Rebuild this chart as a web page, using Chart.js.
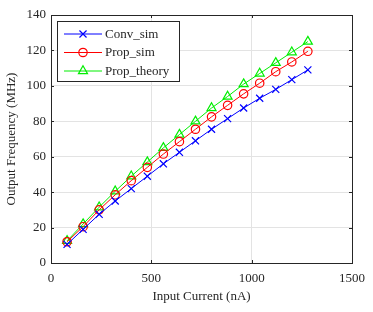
<!DOCTYPE html>
<html>
<head>
<meta charset="utf-8">
<script src="https://cdn.jsdelivr.net/npm/chart.js@4.4.1/dist/chart.umd.min.js"></script>
<style>
  html, body { margin: 0; padding: 0; background: #fff; }
  #wrap { width: 373px; height: 312px; }
</style>
</head>
<body>
<div id="wrap"><canvas id="freqChart" width="373" height="312"></canvas></div>
<script>
const currents = [80, 160, 240, 320, 400, 480, 560, 640, 720, 800, 880, 960, 1040, 1120, 1200, 1280];
const convSim = [10.5, 19, 27.5, 35, 42, 49, 56, 62.5, 69, 75.5, 81.5, 87.5, 93, 98, 103.5, 109];
const propSim = [12, 20.5, 30, 38.5, 46.5, 54, 61.5, 68.5, 75.5, 82.5, 89, 95.5, 101.5, 108, 113.5, 119.5];
const propTheory = [12.5, 22, 31.5, 40.5, 49, 57, 65, 72.5, 80, 87.5, 94, 101, 107, 113, 119, 125];
const seriesNames = ['Conv_sim', 'Prop_sim', 'Prop_theory'];

const serif = '"Liberation Serif", "Times New Roman", serif';
const axisColor = '#262626';

function toPoints(ys) {
    return ys.map((y, i) => ({ x: currents[i], y: y }));
}

// box, inward ticks and the legend, drawn the MATLAB way
const boxPlugin = {
    id: 'boxPlugin',
    afterDraw(chart) {
        const ctx = chart.ctx;
        const a = chart.chartArea;
        const xs = chart.scales.x, ys = chart.scales.y;
        ctx.save();
        ctx.strokeStyle = axisColor;
        ctx.lineWidth = 1;
        ctx.beginPath();
        xs.ticks.forEach(t => {
            const px = Math.round(xs.getPixelForValue(t.value)) + 0.5;
            ctx.moveTo(px, a.bottom); ctx.lineTo(px, a.bottom - 3);
            ctx.moveTo(px, a.top); ctx.lineTo(px, a.top + 3);
        });
        ys.ticks.forEach(t => {
            const py = Math.round(ys.getPixelForValue(t.value)) + 0.5;
            ctx.moveTo(a.left, py); ctx.lineTo(a.left + 3, py);
            ctx.moveTo(a.right, py); ctx.lineTo(a.right - 3, py);
        });
        ctx.stroke();
        ctx.strokeRect(Math.round(a.left) + 0.5, Math.round(a.top) + 0.5,
            Math.round(a.right - a.left), Math.round(a.bottom - a.top));

        // legend
        const lx = 57.5, ly = 21.5, lw = 122, lh = 60;
        ctx.fillStyle = '#fff';
        ctx.fillRect(lx, ly, lw, lh);
        ctx.strokeStyle = axisColor;
        ctx.strokeRect(lx, ly, lw, lh);
        ctx.font = '13px ' + serif;
        ctx.textBaseline = 'middle';
        chart.data.datasets.forEach((ds, i) => {
            const y = 34 + i * 18.5;
            ctx.strokeStyle = ds.borderColor;
            ctx.lineWidth = 1;
            ctx.beginPath();
            ctx.moveTo(64, y); ctx.lineTo(102, y);
            ctx.stroke();
            ctx.fillStyle = 'rgba(0,0,0,0)';
            ctx.lineWidth = 1.2;
            Chart.helpers.drawPoint(ctx, {
                pointStyle: ds.pointStyle,
                radius: ds.pointRadius,
                borderWidth: 1.2
            }, 83, y);
            ctx.fillStyle = axisColor;
            ctx.fillText(ds.label, 105, y + 0.5);
        });
        ctx.restore();
    }
};

new Chart(document.getElementById('freqChart'), {
    type: 'line',
    data: {
        datasets: [
            {
                label: seriesNames[0], data: toPoints(convSim),
                borderColor: '#0000ff', pointBorderColor: '#0000ff', backgroundColor: 'transparent',
                pointStyle: 'crossRot', pointRadius: 5, pointBorderWidth: 1.2
            },
            {
                label: seriesNames[1], data: toPoints(propSim),
                borderColor: '#ff0000', pointBorderColor: '#ff0000', backgroundColor: 'transparent',
                pointStyle: 'circle', pointRadius: 4.2, pointBorderWidth: 1.2
            },
            {
                label: seriesNames[2], data: toPoints(propTheory),
                borderColor: '#00ee00', pointBorderColor: '#00ee00', backgroundColor: 'transparent',
                pointStyle: 'triangle', pointRadius: 5.2, pointBorderWidth: 1.2
            }
        ]
    },
    options: {
        responsive: false,
        animation: false,
        devicePixelRatio: 1,
        layout: { padding: { left: 0, top: 15, right: 19, bottom: 0 } },
        elements: { line: { borderWidth: 1, tension: 0 } },
        plugins: {
            legend: { display: false },
            tooltip: { enabled: false }
        },
        scales: {
            x: {
                type: 'linear',
                min: 0, max: 1500,
                afterFit: s => { s.height = 49; },
                ticks: {
                    stepSize: 500, padding: 8, color: axisColor, font: { family: serif, size: 13 },
                    callback: v => String(v)
                },
                grid: { color: '#e3e3e3', drawTicks: false },
                border: { display: false },
                title: {
                    display: true, text: 'Input Current (nA)', color: axisColor,
                    font: { family: serif, size: 13 }, padding: { top: 0, bottom: 8 }
                }
            },
            y: {
                min: 0, max: 140,
                afterFit: s => { s.width = 51; },
                ticks: { stepSize: 20, padding: 5, color: axisColor, font: { family: serif, size: 13 } },
                grid: { color: '#e3e3e3', drawTicks: false },
                border: { display: false },
                title: {
                    display: true, text: 'Output Frequency (MHz)', color: axisColor,
                    font: { family: serif, size: 13 }, padding: { top: 4, bottom: 0 }
                }
            }
        }
    },
    plugins: [boxPlugin]
});
</script>
</body>
</html>
